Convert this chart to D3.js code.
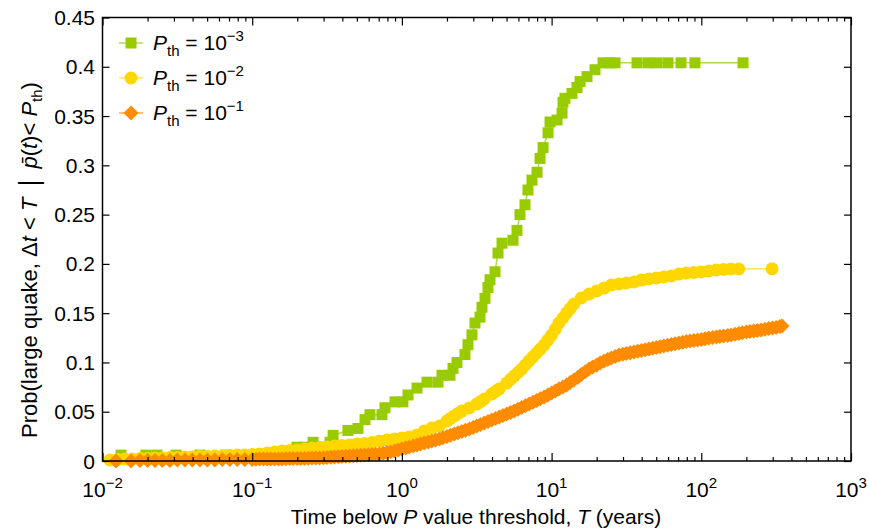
<!DOCTYPE html>
<html>
<head>
<meta charset="utf-8">
<script src="https://cdn.jsdelivr.net/npm/d3@7"></script>
<style>
  html, body { margin: 0; padding: 0; background: #fff; }
  svg { display: block; font-family: "Liberation Sans", Arial, Helvetica, sans-serif; }
</style>
</head>
<body>
<svg id="chart" width="869" height="530"></svg>
<script>
// ---------------- DATA ----------------
const xTickExponents = [-2, -1, 0, 1, 2, 3];
const yTickValues = [0, 0.05, 0.1, 0.15, 0.2, 0.25, 0.3, 0.35, 0.4, 0.45];
const yTickLabels = ["0", "0.05", "0.1", "0.15", "0.2", "0.25", "0.3", "0.35", "0.4", "0.45"];
const legendExponents = ["\u22123", "\u22122", "\u22121"];

// P_th = 1e-3 (green squares)
const greenT = [0.0133, 0.0195, 0.0231, 0.031, 0.0448, 0.0668, 0.199, 0.225, 0.255, 0.331, 0.347, 0.436, 0.509, 0.567, 0.612, 0.736, 0.771, 0.899, 1.016, 1.099, 1.262, 1.471, 1.742, 1.853, 2.095, 2.195, 2.333, 2.638, 2.763, 2.937, 3.076, 3.324, 3.427, 3.589, 3.758, 3.877, 4.188, 4.385, 4.664, 5.525, 5.873, 6.15, 6.641, 6.954, 7.396, 7.995, 8.372, 8.768, 9.469, 9.759, 10.87, 11.74, 11.92, 12.28, 13.68, 14.78, 15.49, 17.24, 19.5, 22.05, 24.56, 26.52, 37.2, 44.1, 50.6, 59.9, 73.2, 90.7, 190];
const greenP = [0.006, 0.006, 0.006, 0.006, 0.006, 0.006, 0.014, 0.014, 0.019, 0.019, 0.026, 0.031, 0.033, 0.042, 0.047, 0.047, 0.054, 0.060, 0.060, 0.067, 0.074, 0.080, 0.080, 0.087, 0.087, 0.094, 0.100, 0.108, 0.118, 0.128, 0.140, 0.146, 0.156, 0.165, 0.176, 0.184, 0.192, 0.211, 0.221, 0.224, 0.234, 0.250, 0.260, 0.275, 0.285, 0.293, 0.307, 0.318, 0.333, 0.344, 0.346, 0.353, 0.364, 0.368, 0.373, 0.379, 0.385, 0.390, 0.397, 0.404, 0.404, 0.404, 0.404, 0.404, 0.404, 0.404, 0.404, 0.404, 0.404];

// P_th = 1e-2 (yellow circles)
const yellowT = [0.0112, 0.0126, 0.0141, 0.0158, 0.0178, 0.02, 0.0224, 0.0251, 0.0282, 0.0316, 0.0355, 0.0398, 0.0447, 0.0501, 0.0562, 0.0631, 0.0708, 0.0794, 0.0891, 0.1, 0.112, 0.126, 0.141, 0.158, 0.178, 0.2, 0.224, 0.251, 0.282, 0.316, 0.355, 0.398, 0.447, 0.501, 0.562, 0.631, 0.708, 0.794, 0.891, 1.0, 1.12, 1.26, 1.41, 1.58, 1.78, 2.0, 2.11, 2.24, 2.37, 2.51, 2.82, 3.16, 3.35, 3.55, 3.98, 4.22, 4.47, 5.01, 5.31, 5.62, 5.96, 6.31, 6.68, 7.08, 7.5, 7.94, 8.41, 8.91, 9.44, 10, 10.6, 11.2, 11.9, 12.6, 13.3, 14.1, 15.8, 17.8, 20, 22.4, 25.1, 28.2, 31.6, 35.5, 39.8, 44.7, 50.1, 56.2, 63.1, 70.8, 79.4, 89.1, 100, 112, 126, 141, 158, 178, 297];
const yellowP = [0.001, 0.0015, 0.002, 0.002, 0.0025, 0.0025, 0.003, 0.003, 0.0036, 0.0036, 0.0041, 0.0041, 0.0046, 0.0046, 0.0051, 0.0051, 0.0056, 0.0061, 0.0061, 0.0066, 0.0071, 0.0081, 0.0091, 0.0101, 0.0107, 0.0112, 0.0122, 0.0132, 0.0137, 0.0142, 0.0152, 0.0157, 0.0162, 0.0172, 0.0178, 0.0188, 0.0203, 0.0213, 0.0223, 0.0233, 0.0244, 0.0264, 0.0304, 0.0335, 0.0355, 0.0406, 0.0431, 0.0457, 0.0482, 0.0507, 0.0538, 0.0578, 0.0603, 0.0629, 0.068, 0.0705, 0.0731, 0.0791, 0.0827, 0.0862, 0.0898, 0.0933, 0.0974, 0.1015, 0.1055, 0.1096, 0.1136, 0.1177, 0.1228, 0.1278, 0.1339, 0.14, 0.1451, 0.1502, 0.1547, 0.1593, 0.1654, 0.1694, 0.1725, 0.1755, 0.1786, 0.1796, 0.1806, 0.1816, 0.1836, 0.1847, 0.1857, 0.1867, 0.1877, 0.1897, 0.1907, 0.1913, 0.1918, 0.1928, 0.1938, 0.1943, 0.1948, 0.1948, 0.195];

// P_th = 1e-1 (orange diamonds)
const orangeT = [0.0123, 0.0155, 0.0178, 0.02, 0.0224, 0.0251, 0.0282, 0.0316, 0.0355, 0.0398, 0.0447, 0.0501, 0.0562, 0.0631, 0.0708, 0.0794, 0.0891, 0.1, 0.112, 0.126, 0.141, 0.158, 0.178, 0.2, 0.224, 0.251, 0.282, 0.316, 0.355, 0.398, 0.447, 0.501, 0.562, 0.631, 0.708, 0.794, 0.891, 1.0, 1.12, 1.26, 1.41, 1.58, 1.78, 2.0, 2.24, 2.51, 2.82, 3.16, 3.55, 3.98, 4.47, 5.01, 5.62, 6.31, 7.08, 7.94, 8.91, 10, 11.2, 12.6, 14.1, 15.8, 17.8, 20, 22.4, 25.1, 28.2, 31.6, 35.5, 39.8, 44.7, 50.1, 56.2, 63.1, 70.8, 79.4, 89.1, 100, 112, 126, 141, 158, 178, 200, 224, 251, 282, 316, 346];
const orangeP = [0, 0, 0.0005, 0.0005, 0.0005, 0.0005, 0.0005, 0.001, 0.001, 0.001, 0.001, 0.001, 0.001, 0.0015, 0.0015, 0.0015, 0.0015, 0.0015, 0.002, 0.002, 0.002, 0.002, 0.0025, 0.0025, 0.0025, 0.003, 0.003, 0.0036, 0.0041, 0.0046, 0.0051, 0.0056, 0.0061, 0.0066, 0.0071, 0.0086, 0.0101, 0.0122, 0.0142, 0.0162, 0.0183, 0.0203, 0.0223, 0.0249, 0.0274, 0.0299, 0.0325, 0.0355, 0.0386, 0.0416, 0.0446, 0.0477, 0.0507, 0.0543, 0.0578, 0.0614, 0.0649, 0.069, 0.0731, 0.0771, 0.0822, 0.0878, 0.0933, 0.0974, 0.1015, 0.1045, 0.1075, 0.1091, 0.1106, 0.1121, 0.1136, 0.1152, 0.1167, 0.1182, 0.1197, 0.1212, 0.1223, 0.1233, 0.1248, 0.1258, 0.1268, 0.1278, 0.1294, 0.1309, 0.1319, 0.1329, 0.1344, 0.1355, 0.137];
// further orange readings between the ones above (the orange band is very dense)
const orangeMoreT = [0.106, 0.119, 0.133, 0.15, 0.168, 0.188, 0.211, 0.237, 0.266, 0.299, 0.335, 0.376, 0.422, 0.473, 0.531, 0.596, 0.668, 0.75, 0.841, 0.944, 1.06, 1.19, 1.33, 1.5, 1.68, 1.88, 2.11, 2.37, 2.66, 2.99, 3.35, 3.76, 4.22, 4.73, 5.31, 5.96, 6.68, 7.5, 8.41, 9.44, 10.6, 11.9, 13.3, 15, 16.8, 18.8, 21.1, 23.7, 26.6, 29.9, 33.5, 37.6, 42.2, 47.3, 53.1, 59.6, 66.8, 75, 84.1, 94.4, 106, 119, 133, 150, 168, 188, 211, 237, 266, 299, 335];
const orangeMoreP = [0.0017, 0.002, 0.002, 0.002, 0.0022, 0.0025, 0.0025, 0.0028, 0.003, 0.0033, 0.0038, 0.0043, 0.0048, 0.0053, 0.0058, 0.0063, 0.0068, 0.0078, 0.0093, 0.0111, 0.0132, 0.0152, 0.0172, 0.0193, 0.0213, 0.0236, 0.0261, 0.0286, 0.0312, 0.034, 0.037, 0.0401, 0.0431, 0.0461, 0.0492, 0.0525, 0.056, 0.0596, 0.0631, 0.0669, 0.071, 0.0751, 0.0796, 0.085, 0.0905, 0.0953, 0.0995, 0.103, 0.106, 0.1083, 0.1098, 0.1113, 0.1128, 0.1144, 0.1159, 0.1174, 0.119, 0.1205, 0.1217, 0.1228, 0.124, 0.1253, 0.1263, 0.1273, 0.1286, 0.1301, 0.1314, 0.1324, 0.1337, 0.135, 0.1364];

// ---------------- LAYOUT ----------------
const svg = d3.select("#chart");
const L = 102.5, R = 851, T = 17.5, B = 461;
const x = d3.scaleLog().domain([0.01, 1000]).range([L, R]);
const y = d3.scaleLinear().domain([0, 0.45]).range([B, T]);

function pairs(ts, ps) {
  const n = Math.min(ts.length, ps.length);
  return d3.range(n).map(i => [ts[i], ps[i]]);
}

const series = [
  { pts: pairs(greenT, greenP), fill: "#99cc00", line: "#b3d94d", shape: "square" },
  { pts: pairs(yellowT, yellowP), fill: "#ffd700", line: "#ffe35c", shape: "circle" },
  { pts: d3.sort(pairs(orangeT, orangeP).concat(pairs(orangeMoreT, orangeMoreP)), d => d[0]),
    fill: "#ff8c00", line: "#ffab4d", shape: "diamond" }
];

function drawMarker(sel, shape, fill) {
  if (shape === "circle") {
    sel.append("circle").attr("r", 6.5).attr("fill", fill);
  } else if (shape === "square") {
    sel.append("rect").attr("x", -5.5).attr("y", -5.5).attr("width", 11).attr("height", 11).attr("fill", fill);
  } else {
    sel.append("path").attr("d", "M0,-7.5L7.5,0L0,7.5L-7.5,0Z").attr("fill", fill);
  }
}

const plot = svg.append("g");
const lineGen = d3.line().x(d => x(d[0])).y(d => y(d[1]));
series.forEach(s => {
  const g = plot.append("g");
  g.append("path").datum(s.pts).attr("d", lineGen).attr("fill", "none")
    .attr("stroke", s.line).attr("stroke-width", 1.5);
  const m = g.selectAll("g.m").data(s.pts).enter().append("g")
    .attr("transform", d => `translate(${x(d[0])},${y(d[1])})`);
  drawMarker(m, s.shape, s.fill);
});

// ---------------- AXES ----------------
const allXTicks = x.ticks();
const isMajor = v => Math.abs(Math.log10(v) - Math.round(Math.log10(v))) < 1e-9;

function styleAxis(g) {
  g.select(".domain").remove();
  g.selectAll("line").attr("stroke", "#000").attr("stroke-width", 1.2);
  g.selectAll("text").remove();
}

const xBottom = svg.append("g").attr("transform", `translate(0,${B})`)
  .call(d3.axisBottom(x).tickValues(allXTicks).tickSize(-4).tickFormat(""));
styleAxis(xBottom);
xBottom.selectAll(".tick line").attr("y2", d => isMajor(d) ? -8 : -4);

const xTop = svg.append("g").attr("transform", `translate(0,${T})`)
  .call(d3.axisTop(x).tickValues(allXTicks).tickSize(-4).tickFormat(""));
styleAxis(xTop);
xTop.selectAll(".tick line").attr("y2", d => isMajor(d) ? 8 : 4);

const yLeft = svg.append("g").attr("transform", `translate(${L},0)`)
  .call(d3.axisLeft(y).tickValues(yTickValues).tickSize(-7).tickFormat(""));
styleAxis(yLeft);
const yRight = svg.append("g").attr("transform", `translate(${R},0)`)
  .call(d3.axisRight(y).tickValues(yTickValues).tickSize(-7).tickFormat(""));
styleAxis(yRight);

// frame
svg.append("rect").attr("x", L).attr("y", T).attr("width", R - L).attr("height", B - T)
  .attr("fill", "none").attr("stroke", "#000").attr("stroke-width", 1.5);

// x tick labels
const xl = svg.append("g").attr("font-size", 21).attr("fill", "#000");
xTickExponents.forEach(e => {
  const t = xl.append("text").attr("x", x(Math.pow(10, e))).attr("y", 497)
    .attr("text-anchor", "middle");
  t.append("tspan").text("10");
  t.append("tspan").attr("dy", -9).attr("font-size", 15).text(e < 0 ? "\u2212" + Math.abs(e) : String(e));
});

// y tick labels
const yl = svg.append("g").attr("font-size", 21).attr("fill", "#000");
yTickValues.forEach((v, i) => {
  yl.append("text").attr("x", 95).attr("y", y(v) + 7.5).attr("text-anchor", "end").text(yTickLabels[i]);
});

// x axis title
const xt = svg.append("text").attr("x", 476).attr("y", 524).attr("text-anchor", "middle")
  .attr("font-size", 21).attr("fill", "#000");
xt.append("tspan").text("Time below ");
xt.append("tspan").attr("font-style", "italic").text("P");
xt.append("tspan").text(" value threshold, ");
xt.append("tspan").attr("font-style", "italic").text("T");
xt.append("tspan").text(" (years)");

// y axis title
const yt = svg.append("text").attr("transform", "translate(37,260) rotate(-90)")
  .attr("text-anchor", "middle").attr("font-size", 22).attr("fill", "#000");
yt.append("tspan").text("Prob(large quake, \u0394");
yt.append("tspan").attr("font-style", "italic").text("t");
yt.append("tspan").text(" < ");
yt.append("tspan").attr("font-style", "italic").text("T");
yt.append("tspan").text("\u2002");
yt.append("tspan").attr("font-size", 27).attr("dy", 1).text("|");
yt.append("tspan").attr("dy", -1).text("\u2002");
yt.append("tspan").attr("font-style", "italic").text("p\u0304");
yt.append("tspan").text("(");
yt.append("tspan").attr("font-style", "italic").text("t");
yt.append("tspan").text(")< ");
yt.append("tspan").attr("font-style", "italic").text("P");
yt.append("tspan").attr("font-size", 15).attr("dy", 5).text("th");
yt.append("tspan").attr("dy", -5).text(")");

// legend
const legY = [43, 78, 113];
series.forEach((s, i) => {
  const g = svg.append("g").attr("transform", `translate(0,${legY[i]})`);
  g.append("line").attr("x1", 119).attr("x2", 143).attr("y1", 0).attr("y2", 0)
    .attr("stroke", s.line).attr("stroke-width", 1.5);
  const m = g.append("g").attr("transform", "translate(131,0)");
  drawMarker(m, s.shape, s.fill);
  const t = g.append("text").attr("x", 153).attr("y", 7).attr("font-size", 21).attr("fill", "#000");
  t.append("tspan").attr("font-style", "italic").text("P");
  t.append("tspan").attr("font-size", 15).attr("dy", 6).text("th");
  t.append("tspan").attr("dy", -6).text(" = 10");
  t.append("tspan").attr("font-size", 15).attr("dy", -9).text(legendExponents[i]);
});
</script>
</body>
</html>
